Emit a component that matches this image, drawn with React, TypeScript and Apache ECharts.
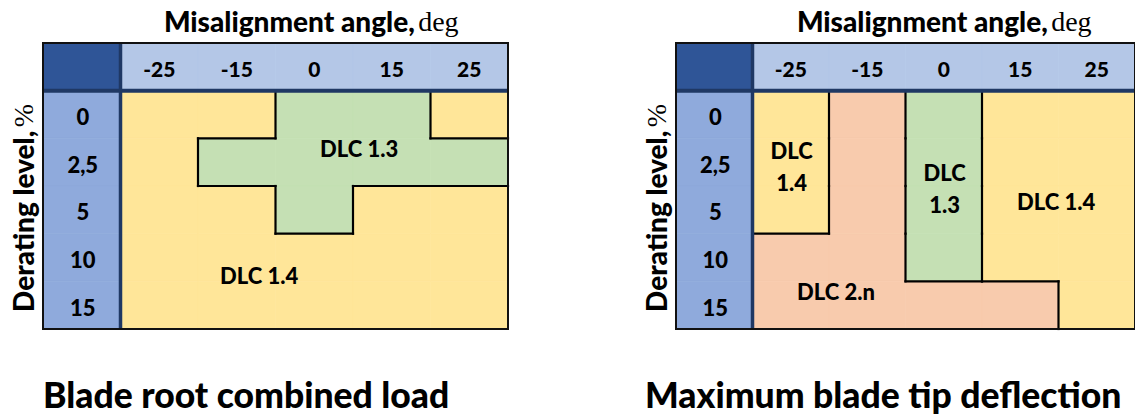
import React, { useEffect, useRef } from 'react';
import * as echarts from 'echarts';

// ---------- data ----------
const angles = ['-25', '-15', '0', '15', '25'];
const deratingLevels = ['0', '2,5', '5', '10', '15'];

// region (governing DLC) per cell, [derating row][angle column]
const rootLoadRegions = [
  ['1.4', '1.4', '1.3', '1.3', '1.4'],
  ['1.4', '1.3', '1.3', '1.3', '1.3'],
  ['1.4', '1.4', '1.3', '1.4', '1.4'],
  ['1.4', '1.4', '1.4', '1.4', '1.4'],
  ['1.4', '1.4', '1.4', '1.4', '1.4'],
];
const tipDeflectionRegions = [
  ['1.4a', '2.n', '1.3', '1.4b', '1.4b'],
  ['1.4a', '2.n', '1.3', '1.4b', '1.4b'],
  ['1.4a', '2.n', '1.3', '1.4b', '1.4b'],
  ['2.n', '2.n', '1.3', '1.4b', '1.4b'],
  ['2.n', '2.n', '2.n', '2.n', '1.4b'],
];
const rootLoadLabels = ['DLC 1.3', 'DLC 1.4'];
const tipDeflectionLabels = ['DLC\n1.4', 'DLC\n1.3', 'DLC 1.4', 'DLC 2.n'];
const panelTitles = ['Blade root combined load', 'Maximum blade tip deflection'];

// ---------- layout / style ----------
const rootLabelPos = [[4.08, 2.22], [2.79, 4.87]];
const tipLabelPos = [[1.51, 2.6], [3.51, 3.06], [4.97, 3.33], [2.09, 5.22]];

const regionColors: Record<string, string> = {
  '1.3': '#C5E0B4',
  '1.4': '#FFE699',
  '2.n': '#F8CBAD',
};
const CORNER = '#2F5597';
const HEADER = '#B4C7E7';
const ROWHEAD = '#8FAADC';
const NAVY = '#1F3864';
const FONT = 'Lato, "Open Sans", sans-serif';
const SERIF = '"Liberation Serif", "DejaVu Serif", serif';
const W = 900;

function edgesOf(regions: string[][]) {
  const segs: number[][] = [];
  for (let r = 0; r < regions.length; r++) {
    for (let c = 0; c < regions[r].length; c++) {
      if (c < regions[r].length - 1 && regions[r][c] !== regions[r][c + 1]) {
        segs.push([c + 2, r + 1, c + 2, r + 2]);
      }
      if (r < regions.length - 1 && regions[r][c] !== regions[r + 1][c]) {
        segs.push([c + 1, r + 2, c + 2, r + 2]);
      }
    }
  }
  return segs;
}

function buildSeries(gi: number, regions: string[][], labels: string[], labelPos: number[][]) {
  const cells: number[][] = [];
  for (let r = 0; r <= deratingLevels.length; r++)
    for (let c = 0; c <= angles.length; c++) cells.push([c, r]);

  const cellSeries = {
    type: 'custom',
    xAxisIndex: gi,
    yAxisIndex: gi,
    data: cells,
    encode: { x: 0, y: 1 },
    renderItem: (_p: any, api: any) => {
      const c = api.value(0);
      const r = api.value(1);
      const p0 = api.coord([c, r]);
      const p1 = api.coord([c + 1, r + 1]);
      let fill = '';
      let text = '';
      if (c === 0 && r === 0) fill = CORNER;
      else if (r === 0) { fill = HEADER; text = angles[c - 1]; }
      else if (c === 0) { fill = ROWHEAD; text = deratingLevels[r - 1]; }
      else fill = regionColors[regions[r - 1][c - 1].slice(0, 3)];
      const children: any[] = [
        {
          type: 'rect',
          shape: { x: p0[0], y: p0[1], width: p1[0] - p0[0], height: p1[1] - p0[1] },
          style: { fill, stroke: fill, lineWidth: 0.6 },
        },
      ];
      if (text) {
        children.push({
          type: 'text',
          x: (p0[0] + p1[0]) / 2 + (c === 0 ? 1 : 0),
          y: (p0[1] + p1[1]) / 2 + 2,
          style: {
            text,
            fill: '#000',
            font: `${W} ${c === 0 ? 22 : 21}px ${FONT}`,
            align: 'center',
            verticalAlign: 'middle',
          },
        });
      }
      return { type: 'group', children };
    },
  };

  const edgeSeries = {
    type: 'custom',
    xAxisIndex: gi,
    yAxisIndex: gi,
    data: edgesOf(regions),
    encode: { x: [0, 2], y: [1, 3] },
    renderItem: (_p: any, api: any) => {
      const a = api.coord([api.value(0), api.value(1)]);
      const b = api.coord([api.value(2), api.value(3)]);
      return {
        type: 'line',
        shape: { x1: a[0], y1: a[1], x2: b[0], y2: b[1] },
        style: { stroke: '#000', lineWidth: 2.2, lineCap: 'square' },
      };
    },
  };

  const frameSeries = {
    type: 'custom',
    xAxisIndex: gi,
    yAxisIndex: gi,
    data: [[0, 0, 6, 6]],
    encode: { x: [0, 2], y: [1, 3] },
    renderItem: (_p: any, api: any) => {
      const tl = api.coord([0, 0]);
      const br = api.coord([angles.length + 1, deratingLevels.length + 1]);
      const h = api.coord([1, 1]);
      return {
        type: 'group',
        children: [
          {
            type: 'line',
            shape: { x1: tl[0], y1: h[1], x2: br[0], y2: h[1] },
            style: { stroke: NAVY, lineWidth: 4 },
          },
          {
            type: 'line',
            shape: { x1: h[0], y1: tl[1], x2: h[0], y2: br[1] },
            style: { stroke: NAVY, lineWidth: 3.5 },
          },
          {
            type: 'rect',
            shape: { x: tl[0], y: tl[1], width: br[0] - tl[0], height: br[1] - tl[1] },
            style: { fill: 'none', stroke: '#111', lineWidth: 2 },
          },
        ],
      };
    },
  };

  const labelSeries = {
    type: 'custom',
    xAxisIndex: gi,
    yAxisIndex: gi,
    data: labelPos,
    encode: { x: 0, y: 1 },
    renderItem: (p: any, api: any) => {
      const pt = api.coord([api.value(0), api.value(1)]);
      return {
        type: 'text',
        x: pt[0],
        y: pt[1],
        style: {
          text: labels[p.dataIndex],
          fill: '#000',
          font: `${W} 22px ${FONT}`,
          align: 'center',
          verticalAlign: 'middle',
          lineHeight: 32,
        },
      };
    },
  };

  return [cellSeries, edgeSeries, frameSeries, labelSeries];
}

const gridLefts = [43, 676];
const GRID_W = 465;

export default function App() {
  const ref = useRef<HTMLDivElement>(null);
  useEffect(() => {
    if (!ref.current) return;
    const chart = echarts.init(ref.current, undefined, { renderer: 'svg' });

    const titleRich = {
      b: { font: `${W} 28px ${FONT}`, fill: '#000', color: '#000' },
      s: { font: `28px ${SERIF}`, fill: '#000', color: '#000' },
    };

    const graphic: any[] = [];
    gridLefts.forEach((left, i) => {
      const dataCenter = left + GRID_W * (7 / 12);
      graphic.push({
        type: 'text',
        x: dataCenter - 3,
        y: 21,
        style: {
          text: '{b|Misalignment angle,} {s|deg}',
          rich: titleRich,
          align: 'center',
          verticalAlign: 'middle',
        },
      });
      graphic.push({
        type: 'text',
        x: left - 20,
        y: 208,
        rotation: Math.PI / 2,
        style: {
          text: '{b|Derating level,} {s|%}',
          rich: titleRich,
          align: 'center',
          verticalAlign: 'middle',
        },
      });
      graphic.push({
        type: 'text',
        x: i === 0 ? 43 : 645,
        y: 394,
        style: {
          text: panelTitles[i],
          font: `${W} 35.5px ${FONT}`,
          fill: '#000',
          align: 'left',
          verticalAlign: 'middle',
        },
      });
    });

    chart.setOption({
      animation: false,
      backgroundColor: '#fff',
      grid: gridLefts.map((left) => ({ left, top: 43, width: GRID_W, height: 286 })),
      xAxis: gridLefts.map((_, i) => ({ gridIndex: i, type: 'value', min: 0, max: 6, show: false })),
      yAxis: gridLefts.map((_, i) => ({
        gridIndex: i,
        type: 'value',
        min: 0,
        max: 6,
        inverse: true,
        show: false,
      })),
      series: [
        ...buildSeries(0, rootLoadRegions, rootLoadLabels, rootLabelPos),
        ...buildSeries(1, tipDeflectionRegions, tipDeflectionLabels, tipLabelPos),
      ],
      graphic,
    });
    return () => chart.dispose();
  }, []);
  return (
    <div
      ref={ref}
      style={{ position: 'absolute', left: 0, top: 0, width: 1135, height: 417 }}
    />
  );
}
